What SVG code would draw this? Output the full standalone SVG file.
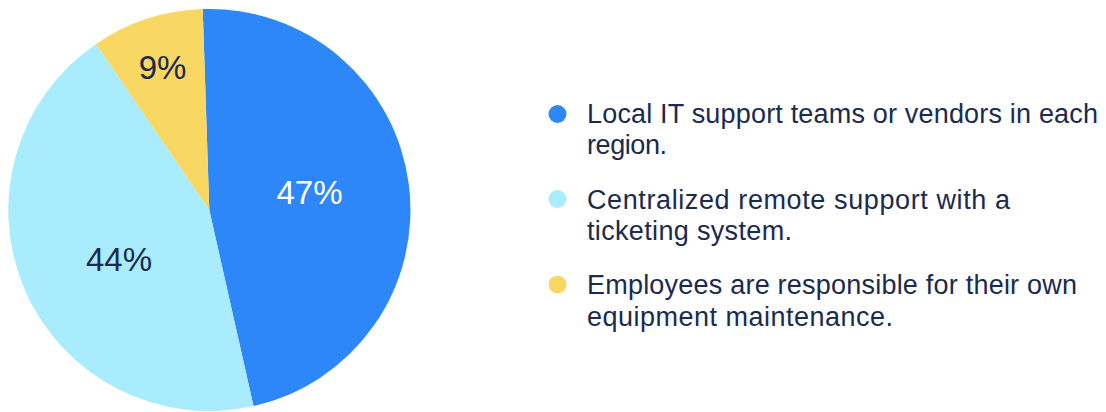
<svg xmlns="http://www.w3.org/2000/svg" width="1106" height="412" viewBox="0 0 1106 412">
<style>
.lbl{font-family:"Liberation Sans",Arial,sans-serif;font-size:33px;text-anchor:middle}
.leg{font-family:"Liberation Sans",Arial,sans-serif;font-size:27px;fill:#1B2A4E}
</style>
<rect width="1106" height="412" fill="#FFFFFF"/>
<g id="pie">
<g id="slice-local"><path d="M209.3,210 L202.7,9.1 A201,201 0 0 1 253.5,406.1 Z" fill="#2E87F9"/></g>
<g id="slice-central"><path d="M209.3,210 L253.5,406.1 A201,201 0 0 1 96,44 Z" fill="#A8ECFE"/></g>
<g id="slice-employees"><path d="M209.3,210 L96,44 A201,201 0 0 1 202.7,9.1 Z" fill="#F9D763"/></g>
</g>
<g id="labels">
<text class="lbl" x="309.5" y="204" fill="#FFFFFF">47%</text>
<text class="lbl" x="119" y="271" fill="#1B2A4E">44%</text>
<text class="lbl" x="162.5" y="79" fill="#1B2A4E">9%</text>
</g>
<g id="legend">
<g id="legend-local">
<circle cx="557.5" cy="114" r="9" fill="#2E87F9"/>
<text class="leg" x="587" y="122.5" textLength="511" lengthAdjust="spacing">Local IT support teams or vendors in each</text>
<text class="leg" x="587" y="154" textLength="80" lengthAdjust="spacing">region.</text>
</g>
<g id="legend-central">
<circle cx="557.5" cy="199" r="9" fill="#A8ECFE"/>
<text class="leg" x="587" y="208.5" textLength="423" lengthAdjust="spacing">Centralized remote support with a</text>
<text class="leg" x="587" y="240" textLength="205" lengthAdjust="spacing">ticketing system.</text>
</g>
<g id="legend-employees">
<circle cx="557.5" cy="284.5" r="9" fill="#F9D763"/>
<text class="leg" x="587" y="294" textLength="490" lengthAdjust="spacing">Employees are responsible for their own</text>
<text class="leg" x="587" y="325.7" textLength="306" lengthAdjust="spacing">equipment maintenance.</text>
</g>
</g>
</svg>
